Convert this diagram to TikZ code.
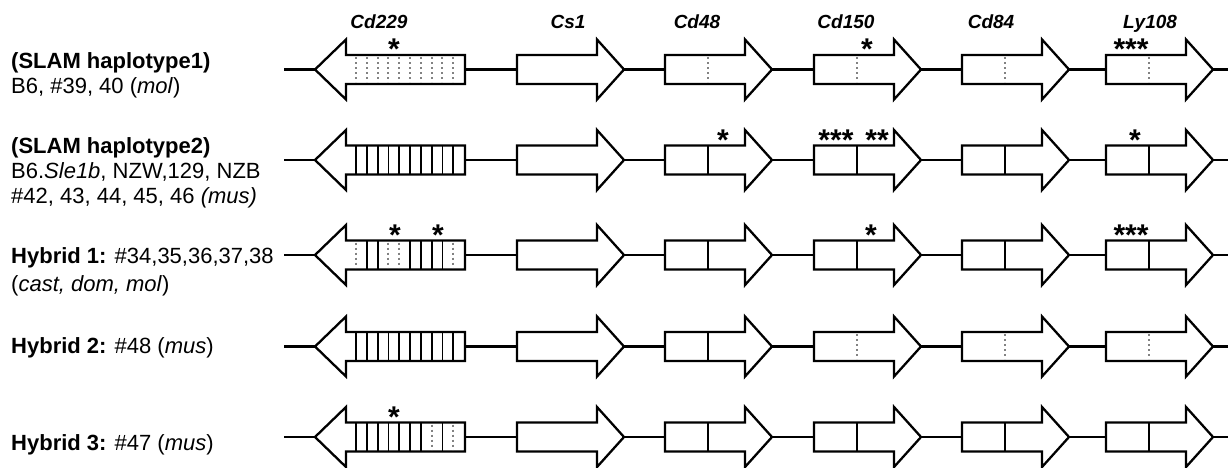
\documentclass[tikz,border=0pt]{standalone}
\usepackage{fontspec}
\setmainfont{Liberation Sans}
\definecolor{dotgray}{RGB}{130,130,130}
\tikzset{
  gline/.style={draw=black, line width=2.3pt, line join=miter, fill=white},
  conn/.style={draw=black, line width=2.2pt},
  splitsolid/.style={draw=black, line width=2.2pt},
  hatchsolid/.style={draw=black, line width=1.8pt},
  splitdot/.style={draw=dotgray, line width=2pt, dash pattern=on 2pt off 3pt, shorten <=2pt, shorten >=2pt},
  genelabel/.style={font=\fontsize{19}{19}\selectfont\bfseries\itshape, anchor=base, inner sep=0pt},
  astk/.style={font=\fontsize{30}{30}\selectfont\bfseries, anchor=base, inner sep=0pt},
  rowlabel/.style={font=\fontsize{22}{22}\selectfont, anchor=base west, inner sep=0pt},
}
% right-pointing gene: #1 name, #2 left x, #3 y
\newcommand\rgene[3]{%
  \draw[gline] (#2,#3-14.5) -- (#2+80,#3-14.5) -- (#2+80,#3-30) -- (#2+107,#3)
     -- (#2+80,#3+30) -- (#2+80,#3+14.5) -- (#2,#3+14.5) -- cycle;
  \coordinate (#1L) at (#2,#3);
  \coordinate (#1T) at (#2+107,#3);
}
% split line in a right gene: #1 style, #2 left x, #3 y
\newcommand\gsplit[3]{\draw[#1] (#2+43,#3-14.5) -- (#2+43,#3+14.5);}
% left-pointing Cd229: #1 name, #2 y, #3 list of hatch styles
\newcommand\lgene[3]{%
  \draw[gline] (465,#2-14.5) -- (346,#2-14.5) -- (346,#2-30) -- (315,#2)
     -- (346,#2+30) -- (346,#2+14.5) -- (465,#2+14.5) -- cycle;
  \coordinate (#1T) at (315,#2);
  \coordinate (#1R) at (465,#2);
  \foreach \hs [count=\k from 0] in {#3} {\draw[\hs] (356+10.8*\k,#2-14.5) -- (356+10.8*\k,#2+14.5);}
}
% one locus row: #1 id, #2 y, #3 hatch list, #4..#7 split styles Cd48 Cd150 Cd84 Ly108
\newcommand\generow[7]{%
  \coordinate (#1s) at (284,#2);
  \coordinate (#1e) at (1228,#2);
  \lgene{#1a}{#2}{#3}
  \rgene{#1b}{517}{#2}
  \rgene{#1c}{665}{#2}\gsplit{#4}{665}{#2}
  \rgene{#1d}{814}{#2}\gsplit{#5}{814}{#2}
  \rgene{#1f}{962}{#2}\gsplit{#6}{962}{#2}
  \rgene{#1g}{1106}{#2}\gsplit{#7}{1106}{#2}
  \draw[conn] (#1s) -- (#1aT);
  \draw[conn] (#1aR) -- (#1bL);
  \draw[conn] (#1bT) -- (#1cL);
  \draw[conn] (#1cT) -- (#1dL);
  \draw[conn] (#1dT) -- (#1fL);
  \draw[conn] (#1fT) -- (#1gL);
  \draw[conn] (#1gT) -- (#1e);
}
\begin{document}
\begin{tikzpicture}[x=1pt,y=-1pt]
\useasboundingbox (0,0) rectangle (1228,467);

% gene names
\node[genelabel] (lcd229) at (379,28) {Cd229};
\node[genelabel] (lcs1)   at (568,28) {Cs1};
\node[genelabel] (lcd48)  at (697,28) {Cd48};
\node[genelabel] (lcd150) at (846,28) {Cd150};
\node[genelabel] (lcd84)  at (991,28) {Cd84};
\node[genelabel] (lly108) at (1150,28) {Ly108};

% rows
\generow{ra}{69.5}{splitdot,splitdot,splitdot,splitdot,splitdot,splitdot,splitdot,splitdot,splitdot,splitdot}{splitdot}{splitdot}{splitdot}{splitdot}
\generow{rb}{160}{hatchsolid,hatchsolid,hatchsolid,hatchsolid,hatchsolid,hatchsolid,hatchsolid,hatchsolid,hatchsolid,hatchsolid}{splitsolid}{splitsolid}{splitsolid}{splitsolid}
\generow{rc}{255}{splitdot,hatchsolid,hatchsolid,splitdot,splitdot,hatchsolid,hatchsolid,hatchsolid,hatchsolid,splitdot}{splitsolid}{splitsolid}{splitsolid}{splitsolid}
\generow{rd}{346.5}{hatchsolid,hatchsolid,hatchsolid,hatchsolid,hatchsolid,hatchsolid,hatchsolid,hatchsolid,hatchsolid,hatchsolid}{splitsolid}{splitdot}{splitdot}{splitdot}
\generow{re}{437}{hatchsolid,hatchsolid,hatchsolid,hatchsolid,hatchsolid,hatchsolid,hatchsolid,splitdot,hatchsolid,splitdot}{splitsolid}{splitsolid}{splitsolid}{splitsolid}

% asterisks
\node[astk] (sa1) at (394,59.5) {*};
\node[astk] (sa2) at (867,59.5) {*};
\node[astk] (sa3) at (1131,59.5) {***};
\node[astk] (sb1) at (723,150) {*};
\node[astk] (sb2) at (836,150) {***};
\node[astk] (sb3) at (877,150) {**};
\node[astk] (sb4) at (1135,150) {*};
\node[astk] (sc1) at (395,245) {*};
\node[astk] (sc2) at (438,245) {*};
\node[astk] (sc3) at (871,245) {*};
\node[astk] (sc4) at (1131,245) {***};
\node[astk] (se1) at (394,427) {*};

% row labels
\node[rowlabel] (ta1) at (11,68) {\textbf{(SLAM haplotype1)}};
\node[rowlabel] (ta2) at (11,93) {B6, \#39, 40 (\textit{mol})};
\node[rowlabel] (tb1) at (11,153) {\textbf{(SLAM haplotype2)}};
\node[rowlabel] (tb2) at (11,178) {B6.\textit{Sle1b}, NZW,129, NZB};
\node[rowlabel] (tb3) at (11,203) {\#42, 43, 44, 45, 46 \textit{(mus)}};
\node[rowlabel] (tc1) at (11,263) {\textbf{Hybrid 1:} \#34,35,36,37,38};
\node[rowlabel] (tc2) at (11,291) {(\textit{cast, dom, mol})};
\node[rowlabel] (td1) at (11,353) {\textbf{Hybrid 2:} \#48 (\textit{mus})};
\node[rowlabel] (te1) at (11,450) {\textbf{Hybrid 3:} \#47 (\textit{mus})};
\end{tikzpicture}
\end{document}
